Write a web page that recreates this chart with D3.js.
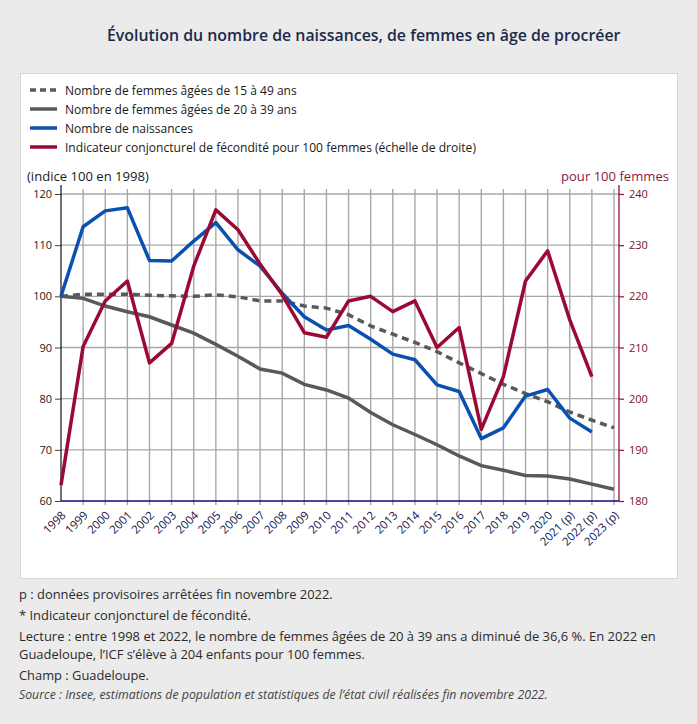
<!DOCTYPE html>
<html><head><meta charset="utf-8">
<script src="https://cdn.jsdelivr.net/npm/d3@7"></script>
<style>
html,body{margin:0;padding:0;background:#ebebeb;}
svg{display:block;font-family:"Open Sans",sans-serif;}
</style></head><body>
<svg id="c" width="697" height="724"></svg>
<script>
const years = ["1998","1999","2000","2001","2002","2003","2004","2005","2006","2007","2008","2009","2010","2011","2012","2013","2014","2015","2016","2017","2018","2019","2020","2021 (p)","2022 (p)","2023 (p)"];
const femmes15_49 = [100,100.4,100.4,100.4,100.2,100.1,100.0,100.3,99.9,99.1,99.1,98.1,97.7,96.4,94.2,92.6,91.0,89.2,87.0,84.9,82.8,81.0,79.4,77.4,75.8,74.3];
const femmes20_39 = [100,99.6,98.1,97.0,96.0,94.4,92.8,90.6,88.3,85.8,85.0,82.8,81.7,80.1,77.3,74.9,73.0,71.0,68.8,66.9,66.0,65.0,64.9,64.3,63.3,62.3];
const naissances = [100,113.6,116.7,117.3,107.0,106.9,110.8,114.4,109.1,105.9,100.6,96.0,93.4,94.3,91.6,88.7,87.6,82.7,81.4,72.2,74.3,80.5,81.8,76.2,73.5];
const icf = [183.1,210.2,219.1,223.0,207.0,210.8,225.9,236.9,233.0,226.3,220.3,212.9,212.0,219.1,220.0,217.0,219.1,210.0,213.9,194.0,204.3,223.0,228.9,215.4,204.3];
const leftTicks = [60,70,80,90,100,110,120];
const rightTicks = [180,190,200,210,220,230,240];
const legendLabels = ["Nombre de femmes âgées de 15 à 49 ans","Nombre de femmes âgées de 20 à 39 ans","Nombre de naissances","Indicateur conjoncturel de fécondité pour 100 femmes (échelle de droite)"];
const notes = ["p : données provisoires arrêtées fin novembre 2022.","* Indicateur conjoncturel de fécondité.","Lecture : entre 1998 et 2022, le nombre de femmes âgées de 20 à 39 ans a diminué de 36,6 %. En 2022 en","Guadeloupe, l’ICF s’élève à 204 enfants pour 100 femmes.","Champ : Guadeloupe.","Source : Insee, estimations de population et statistiques de l’état civil réalisées fin novembre 2022."];

const BLUE="#0a50b0", RED="#9b0a33", GRAY="#595959", GRID="#a8a8a8";
const svg = d3.select("#c");

function fit(sel, w){ const m = sel.node().getComputedTextLength(); const fs = parseFloat(sel.attr("font-size")); sel.attr("font-size", (fs*w/m).toFixed(2)); return sel; }

// title
fit(svg.append("text").attr("x",107).attr("y",41).attr("font-size",16).attr("font-weight",600).attr("fill","#1b2a4a").text("Évolution du nombre de naissances, de femmes en âge de procréer"), 514);

// panel
svg.append("rect").attr("x",20.5).attr("y",73.5).attr("width",657).attr("height",505).attr("fill","#fff").attr("stroke","#d6d6d6");

// legend
const legRows=[90,109,128,147];
const legW=[232,232,128,411];
const legStyle=[{c:GRAY,d:"6,4"},{c:GRAY,d:null},{c:BLUE,d:null},{c:RED,d:null}];
legendLabels.forEach((t,i)=>{
  const l=svg.append("line").attr("x1",30).attr("x2",57).attr("y1",legRows[i]).attr("y2",legRows[i]).attr("stroke",legStyle[i].c).attr("stroke-width",3.5);
  if(legStyle[i].d) l.attr("stroke-dasharray",legStyle[i].d);
  fit(svg.append("text").attr("x",65).attr("y",legRows[i]+4.5).attr("font-size",12).attr("fill","#1a1a1a").text(t), legW[i]);
});

// scales
const x = d3.scalePoint().domain(years).range([61,614]);
const yL = d3.scaleLinear().domain([60,120]).range([501,194]);
const yR = d3.scaleLinear().domain([180,240]).range([501,194]);
const axisRight = 619, axisTop = 185;

// grid
const g = svg.append("g");
g.selectAll("line.h").data(leftTicks.slice(1)).join("line").attr("x1",61).attr("x2",axisRight).attr("y1",d=>yL(d)).attr("y2",d=>yL(d)).attr("stroke",GRID).attr("stroke-width",1.4);
g.selectAll("line.v").data(years.slice(1)).join("line").attr("x1",d=>x(d)).attr("x2",d=>x(d)).attr("y1",189).attr("y2",505).attr("stroke",GRID).attr("stroke-width",1.4);

// left axis
const la = svg.append("g").attr("transform","translate(61,0)").call(d3.axisLeft(yL).tickValues(leftTicks).tickSize(6).tickPadding(3));
la.select(".domain").remove();
la.selectAll(".tick line").attr("stroke","#444");
la.selectAll("text").attr("font-size",11).attr("fill","#1a1a1a").attr("font-family","Open Sans");
svg.append("line").attr("x1",61).attr("x2",61).attr("y1",axisTop).attr("y2",501).attr("stroke","#111").attr("stroke-width",1.2);

// right axis
const ra = svg.append("g").attr("transform",`translate(${axisRight},0)`).call(d3.axisRight(yR).tickValues(rightTicks).tickSize(5).tickPadding(5));
ra.select(".domain").remove();
ra.selectAll(".tick line").attr("stroke",RED).attr("stroke-width",1.2);
ra.selectAll("text").attr("font-size",11).attr("fill","#7a1030").attr("font-family","Open Sans");
svg.append("line").attr("x1",axisRight).attr("x2",axisRight).attr("y1",axisTop).attr("y2",501).attr("stroke",RED).attr("stroke-width",1.3);

// bottom axis
const ba = svg.append("g").attr("transform","translate(0,501)").call(d3.axisBottom(x).tickSize(0).tickPadding(0));
ba.select(".domain").remove();
ba.selectAll("text").attr("font-size",11.5).attr("fill","#14144a").attr("font-family","Open Sans").attr("text-anchor","end").attr("dy",null).attr("y",null).attr("transform","translate(5,15) rotate(-45)");
svg.append("line").attr("x1",61).attr("x2",axisRight).attr("y1",501).attr("y2",501).attr("stroke","#0a0a7a").attr("stroke-width",1.3);

// axis titles
fit(svg.append("text").attr("x",27).attr("y",181).attr("font-size",12).attr("fill","#1a1a1a").text("(indice 100 en 1998)"),122);
fit(svg.append("text").attr("x",561).attr("y",181).attr("font-size",12).attr("fill","#8a1a40").text("pour 100 femmes"),108);

// lines
const lineL = d3.line().x((d,i)=>x(years[i])).y(d=>yL(d));
const lineR = d3.line().x((d,i)=>x(years[i])).y(d=>yR(d));
svg.append("path").attr("d",lineL(femmes20_39)).attr("fill","none").attr("stroke",GRAY).attr("stroke-width",3.5);
svg.append("path").attr("d",lineL(femmes15_49)).attr("fill","none").attr("stroke",GRAY).attr("stroke-width",3.5).attr("stroke-dasharray","7,5");
svg.append("path").attr("d",lineL(naissances)).attr("fill","none").attr("stroke",BLUE).attr("stroke-width",3.5).attr("stroke-linejoin","round");
svg.append("path").attr("d",lineR(icf)).attr("fill","none").attr("stroke",RED).attr("stroke-width",3.5).attr("stroke-linejoin","round");

// notes
const noteY=[599,620,641,659,680,699];
const noteW=[314,232,637,346,130,529];
notes.forEach((t,i)=>{
  const s=svg.append("text").attr("x",19).attr("y",noteY[i]).attr("font-size",12.5).attr("fill","#2a2a2a").text(t);
  if(i===5) s.attr("font-style","italic").attr("fill","#444");
  fit(s,noteW[i]);
});
</script>
</body></html>
